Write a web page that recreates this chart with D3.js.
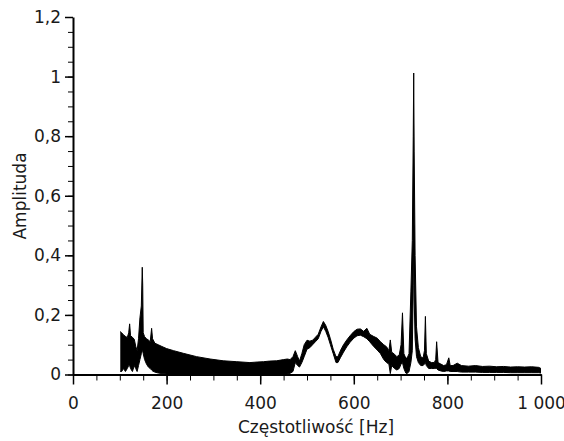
<!DOCTYPE html>
<html>
<head>
<meta charset="utf-8">
<script src="https://cdn.jsdelivr.net/npm/d3@7"></script>
<style>
    body { margin: 0; background: #fff; }
    svg text { font-family: "DejaVu Sans", sans-serif; fill: #1a1a1a; }
    .axis path, .axis line { stroke: #000; }
</style>
</head>
<body>
<div id="chart"></div>
<script>
// spectrum: frequency [Hz], lower / upper edge of the noisy trace
const freqHz = [101, 104, 108, 112, 116, 119, 121, 123, 127, 131, 134, 137, 140, 143, 146, 148, 149, 150, 153, 157,
    161, 165, 168, 170, 175, 182, 190, 200, 215, 236, 264, 293, 321, 350, 378, 395, 407, 420, 435, 450,
    458, 464, 470, 475, 480, 484, 489, 494, 500, 506, 512, 518, 524, 530, 535, 540, 545, 550, 556, 562,
    566, 572, 578, 585, 592, 600, 607, 614, 621, 628, 634, 642, 650, 657, 664, 670, 675, 678, 681, 687,
    692, 697, 701, 704, 707, 711, 714, 718, 722, 725, 727, 728, 729, 731, 734, 738, 743, 748, 751, 753,
    755, 760, 766, 772, 775, 777, 780, 786, 792, 798, 803, 806, 812, 821, 830, 845, 860, 875, 890, 905,
    920, 935, 950, 965, 980, 995, 1000];
const ampUpper = [0.144, 0.14, 0.133, 0.128, 0.124, 0.14, 0.17, 0.13, 0.125, 0.118, 0.095, 0.08, 0.12, 0.19, 0.23, 0.36, 0.30, 0.14, 0.127, 0.12,
    0.116, 0.11, 0.155, 0.12, 0.105, 0.1, 0.094, 0.087, 0.08, 0.071, 0.06, 0.052, 0.046, 0.043, 0.04, 0.042, 0.043, 0.045, 0.046, 0.05,
    0.052, 0.05, 0.06, 0.08, 0.06, 0.045, 0.07, 0.1, 0.115, 0.112, 0.115, 0.125, 0.135, 0.16, 0.178, 0.165, 0.145, 0.12, 0.085, 0.06,
    0.06, 0.082, 0.1, 0.116, 0.13, 0.144, 0.152, 0.153, 0.145, 0.155, 0.135, 0.128, 0.122, 0.11, 0.1, 0.093, 0.08, 0.116, 0.075, 0.068,
    0.06, 0.065, 0.1, 0.207, 0.07, 0.055, 0.055, 0.07, 0.28, 0.45, 0.8, 1.012, 0.75, 0.4, 0.16, 0.09, 0.06, 0.055, 0.08, 0.195,
    0.07, 0.045, 0.04, 0.04, 0.05, 0.11, 0.04, 0.035, 0.03, 0.033, 0.056, 0.03, 0.03, 0.038, 0.03, 0.028, 0.03, 0.027, 0.028, 0.026,
    0.027, 0.025, 0.026, 0.025, 0.026, 0.024, 0.02];
const ampLower = [0.01, 0.01, 0.02, 0.01, 0.02, 0.03, 0.03, 0.02, 0.01, 0.03, 0.02, 0.01, 0.03, 0.05, 0.07, 0.08, 0.08, 0.07, 0.05, 0.035,
    0.025, 0.02, 0.015, 0.012, 0.008, 0.005, 0.003, 0.002, 0.002, 0.002, 0.002, 0.002, 0.002, 0.002, 0.002, 0.002, 0.002, 0.002, 0.002, 0.002,
    0.002, 0.004, 0.01, 0.04, 0.03, 0.025, 0.04, 0.06, 0.085, 0.09, 0.1, 0.11, 0.12, 0.145, 0.16, 0.145, 0.125, 0.1, 0.07, 0.04,
    0.04, 0.058, 0.075, 0.093, 0.108, 0.122, 0.13, 0.132, 0.127, 0.12, 0.11, 0.095, 0.082, 0.07, 0.05, 0.04, 0.035, 0.003, 0.03, 0.02,
    0.015, 0.02, 0.035, 0.04, 0.02, 0.005, 0.003, 0.01, 0.04, 0.08, 0.3, 0.5, 0.25, 0.12, 0.06, 0.04, 0.03, 0.03, 0.035, 0.04,
    0.03, 0.02, 0.02, 0.02, 0.02, 0.02, 0.015, 0.012, 0.01, 0.012, 0.012, 0.01, 0.01, 0.01, 0.008, 0.008, 0.008, 0.007, 0.007, 0.007,
    0.007, 0.006, 0.006, 0.006, 0.006, 0.006, 0.005];

const xTicks = [0, 200, 400, 600, 800, 1000];
const yTicks = [0, 0.2, 0.4, 0.6, 0.8, 1, 1.2];

// polish number format: comma decimals, space thousands
const pl = d3.formatLocale({decimal: ",", thousands: " ", grouping: [3], currency: ["", " zł"]});

const margin = {top: 17, right: 23, bottom: 66.5, left: 73};
const width = 564 - margin.left - margin.right;
const height = 441 - margin.top - margin.bottom;

const svg = d3.select("#chart").append("svg")
    .attr("width", 564)
    .attr("height", 441)
    .append("g")
    .attr("transform", `translate(${margin.left}, ${margin.top})`);

const x = d3.scaleLinear().domain([0, 1000]).range([0, width]);
const y = d3.scaleLinear().domain([0, 1.2]).range([height, 0]);

const data = freqHz.map((f, i) => ({f: f, lo: ampLower[i], hi: ampUpper[i]}));

// noisy trace as band between its lower and upper edge
svg.append("path")
    .datum(data)
    .attr("fill", "#000")
    .attr("d", d3.area().x(d => x(d.f)).y0(d => y(d.lo)).y1(d => y(d.hi)));

["hi", "lo"].forEach(k => {
    svg.append("path")
        .datum(data)
        .attr("fill", "none")
        .attr("stroke", "#000")
        .attr("stroke-width", 1)
        .attr("d", d3.line().x(d => x(d.f)).y(d => y(d[k])));
});

// minor ticks
svg.append("g")
    .attr("class", "axis")
    .attr("transform", `translate(0, ${height})`)
    .call(d3.axisBottom(x).tickValues(d3.range(0, 1001, 50)).tickSize(6).tickFormat(""))
    .call(g => g.select(".domain").remove());
svg.append("g")
    .attr("class", "axis")
    .call(d3.axisLeft(y).tickValues(d3.range(0, 1.21, 0.05)).tickSize(5).tickFormat(""))
    .call(g => g.select(".domain").remove());

// major ticks + labels
const xAxis = svg.append("g")
    .attr("class", "axis")
    .attr("transform", `translate(0, ${height})`)
    .call(d3.axisBottom(x).tickValues(xTicks).tickSize(10).tickSizeOuter(0).tickPadding(12).tickFormat(pl.format(",")));
xAxis.select(".domain").attr("stroke-width", 2);
xAxis.selectAll(".tick line").attr("stroke-width", 1.5);

const yAxis = svg.append("g")
    .attr("class", "axis")
    .call(d3.axisLeft(y).tickValues(yTicks).tickSize(8).tickSizeOuter(0).tickPadding(4).tickFormat(pl.format("~g")));
yAxis.select(".domain").attr("stroke-width", 2);
yAxis.selectAll(".tick line").attr("stroke-width", 1.5);

svg.selectAll(".axis text")
    .attr("style", "font-size: 17px")
    .attr("fill", "#1a1a1a");

// axis titles
svg.append("text")
    .text("Częstotliwość [Hz]")
    .attr("x", 243)
    .attr("y", height + 58.5)
    .attr("text-anchor", "middle")
    .attr("style", "font-size: 17px");

svg.append("text")
    .text("Amplituda")
    .attr("transform", `translate(-47, 179) rotate(-90)`)
    .attr("text-anchor", "middle")
    .attr("style", "font-size: 17px");
</script>
</body>
</html>
